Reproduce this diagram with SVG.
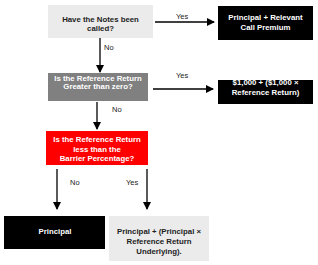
<svg xmlns="http://www.w3.org/2000/svg" width="318" height="265" viewBox="0 0 318 265">
<defs>
<marker id="ah" markerWidth="8" markerHeight="8" refX="7" refY="4" orient="auto" markerUnits="userSpaceOnUse"><path d="M0,0 L8,4 L0,8 Z" fill="#000"/></marker>
<style>
.t{font-family:"Liberation Sans",Arial,sans-serif;font-size:7.8px;font-weight:bold;text-anchor:middle}
.w{fill:#fff}.k{fill:#222}
.lb{font-family:"Liberation Sans",Arial,sans-serif;font-size:7.5px;fill:#222}
.c{stroke:#000;stroke-width:1.3;fill:none;marker-end:url(#ah)}
</style>
</defs>
<rect width="318" height="265" fill="#fff"/>
<g id="connectors">
<line class="c" x1="155" y1="22" x2="214" y2="22"/>
<line class="c" x1="100" y1="38" x2="100" y2="72"/>
<line class="c" x1="153" y1="89" x2="213" y2="89"/>
<line class="c" x1="97" y1="102" x2="97" y2="129"/>
<line class="c" x1="57" y1="169" x2="57" y2="209"/>
<line class="c" x1="147" y1="169" x2="147" y2="209"/>
<text class="lb" x="176" y="19">Yes</text>
<text class="lb" x="104" y="50">No</text>
<text class="lb" x="176" y="78">Yes</text>
<text class="lb" x="112" y="112">No</text>
<text class="lb" x="70" y="185">No</text>
<text class="lb" x="126" y="185">Yes</text>
</g>
<g id="q1">
<rect x="48" y="5" width="105" height="33" fill="#ebebeb"/>
<text class="t k" x="100.5" y="21.5">Have the Notes been</text>
<text class="t k" x="100.5" y="30.5">called?</text>
</g>
<g id="r1">
<rect x="218" y="6" width="95" height="34" fill="#000"/>
<text class="t w" x="265.5" y="20">Principal + Relevant</text>
<text class="t w" x="265.5" y="30">Call Premium</text>
</g>
<g id="q2">
<rect x="48" y="73" width="100" height="28" fill="#808080"/>
<text class="t w" x="98" y="80.5">Is the Reference Return</text>
<text class="t w" x="98" y="89">Greater than zero?</text>
</g>
<g id="r2">
<rect x="218" y="80" width="95" height="24" fill="#000"/>
<text class="t w" x="265.5" y="85">$1,000 + ($1,000 ×</text>
<text class="t w" x="265.5" y="94.5">Reference Return)</text>
</g>
<g id="q3">
<rect x="46" y="131" width="102" height="34" fill="#ff0000"/>
<text class="t w" x="97" y="142">Is the Reference Return</text>
<text class="t w" x="97" y="151.5">less than the</text>
<text class="t w" x="97" y="161">Barrier Percentage?</text>
</g>
<g id="r3">
<rect x="4" y="216" width="101" height="33" fill="#000"/>
<text class="t w" x="55" y="234">Principal</text>
</g>
<g id="r4">
<rect x="109" y="216" width="100" height="45" fill="#ebebeb"/>
<text class="t k" x="159" y="234">Principal + (Principal ×</text>
<text class="t k" x="159" y="244">Reference Return</text>
<text class="t k" x="159" y="253.5">Underlying).</text>
</g>
</svg>
